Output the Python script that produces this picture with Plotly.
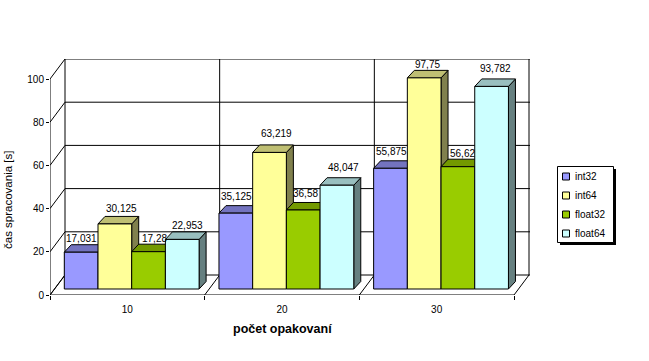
import plotly.graph_objects as go

categories = ["10", "20", "30"]
series_names = ["int32", "int64", "float32", "float64"]
int32 = [17.031, 35.125, 55.875]
int64 = [30.125, 63.219, 97.75]
float32 = [17.28, 36.58, 56.62]
float64 = [22.953, 48.047, 93.782]
y_ticks = [0, 20, 40, 60, 80, 100]

series_values = [int32, int64, float32, float64]
front = ["#9999FF", "#FFFF99", "#99CC00", "#CCFFFF"]
top = ["#7373BF", "#BFBF73", "#739900", "#99BFBF"]
side = ["#4D4D80", "#80804D", "#4D6600", "#668080"]

W, H = 649, 361
L, R, T, B = 50, 530, 59, 295
PX_X = 154.67           # pixels per category
PX_Y = 2.16             # pixels per unit
sx = lambda p: p / PX_X
sy = lambda p: p / PX_Y
DX, DY = sx(15), sy(20)       # wall depth
BX, BY = sx(7), sy(7.5)       # bar depth
BASE = sy(6)                  # bars stand a little into the floor
BAR_W = sx(33.7)
GROUP_START = sx(14.3)
x_max = (R - L) / PX_X
y_max = (B - T) / PX_Y

fig = go.Figure()


def line(xs, ys, z=0):
    fig.add_trace(go.Scatter(x=xs, y=ys, mode="lines", line=dict(color="black", width=1),
                             cliponaxis=False, showlegend=False, hoverinfo="skip", zorder=z))


# walls and floor
gx, gy = [], []
for t in y_ticks:
    gx += [0, DX, x_max, None]
    gy += [t, t + DY, t + DY, None]
n = len(categories)
for i in range(n + 1):
    gx += [i, i + DX, i + DX, None]
    gy += [0, DY, 100 + DY, None]
gx += [0, 0, None, 0, n]
gy += [0, 100, None, 0, 0]
line(gx, gy)

# 3D bars, painted from left to right
for s, (name, vals) in enumerate(zip(series_names, series_values)):
    lefts = [i + GROUP_START + s * BAR_W for i in range(n)]
    sxs, sys, txs, tys = [], [], [], []
    for x0, v in zip(lefts, vals):
        x1 = x0 + BAR_W
        y0, y1 = BASE, BASE + v
        sxs += [x1, x1 + BX, x1 + BX, x1, x1, None]
        sys += [y0, y0 + BY, y1 + BY, y1, y0, None]
        txs += [x0, x0 + BX, x1 + BX, x1, x0, None]
        tys += [y1, y1 + BY, y1 + BY, y1, y1, None]
    z = 3 * s + 1
    for xs, ys, col, zz in ((sxs, sys, side[s], z), (txs, tys, top[s], z + 1)):
        fig.add_trace(go.Scatter(x=xs, y=ys, mode="lines", fill="toself", fillcolor=col,
                                 line=dict(color="black", width=1), showlegend=False,
                                 hoverinfo="skip", zorder=zz, cliponaxis=False))
    fig.add_trace(go.Bar(x=[l + BAR_W / 2 for l in lefts], y=vals, base=BASE, width=BAR_W,
                         name=name, marker=dict(color=front[s], line=dict(color="black", width=1)),
                         showlegend=False, zorder=z + 2))

FONT = "Liberation Sans"
ann = []
# nudges of the value labels, in pixels (per series, per group)
nudges_x = [[-7, -6, -6], [0, 0, -4], [-1, -5, -2], [-2, 0, -3]]
nudges_y = [[-2, 1, 1], [0, 3, -2], [-2, 1, -2], [-2, 2, 2]]
for s, vals in enumerate(series_values):
    for i, v in enumerate(vals):
        x = i + GROUP_START + s * BAR_W + BAR_W / 2 + BX
        ann.append(dict(x=x, y=BASE + v + BY, xref="x", yref="y", text=f"{v:g}".replace(".", ","),
                        showarrow=False, xanchor="center", yanchor="middle",
                        xshift=nudges_x[s][i], yshift=8 + nudges_y[s][i],
                        font=dict(family=FONT, size=10, color="black")))

# page pixels to "paper" fractions (paper spans the plot area)
px = lambda p: (p - L) / (R - L)
py = lambda p: (B - p) / (B - T)
ann.append(dict(x=px(282), y=py(329), xref="paper", yref="paper", text="<b>počet opakovaní</b>", showarrow=False,
                xanchor="center", yanchor="middle", font=dict(family=FONT, size=12.5, color="black")))
ann.append(dict(x=px(8), y=py(200), xref="paper", yref="paper", text="čas spracovania [s]", showarrow=False,
                textangle=-90, xanchor="center", yanchor="middle", font=dict(family=FONT, size=11.5, color="black")))

shapes = [
    dict(type="rect", xref="paper", yref="paper", x0=px(560), x1=px(616), y0=py(169), y1=py(245),
         fillcolor="black", line=dict(width=0)),
    dict(type="rect", xref="paper", yref="paper", x0=px(557.5), x1=px(613.5), y0=py(166.5), y1=py(242.5),
         fillcolor="white", line=dict(color="black", width=1)),
]
for s, name in enumerate(series_names):
    yc = 176.5 + s * 19
    shapes.append(dict(type="rect", xref="paper", yref="paper", x0=px(562.5), x1=px(569.5),
                       y0=py(yc - 3.5), y1=py(yc + 3.5), fillcolor=front[s], line=dict(color="black", width=1)))
    ann.append(dict(x=px(573), y=py(yc), xref="paper", yref="paper", text=name, showarrow=False,
                    xanchor="left", yanchor="middle", font=dict(family=FONT, size=10, color="black")))

fig.update_layout(
    width=W, height=H, margin=dict(l=L, r=W - R, t=T, b=H - B, pad=0),
    paper_bgcolor="white", plot_bgcolor="white", barmode="overlay", showlegend=False,
    font=dict(family=FONT, size=10, color="black"),
    annotations=ann, shapes=shapes,
    xaxis=dict(range=[0, x_max], tickmode="array", tickvals=[i + 0.5 for i in range(n)], ticktext=categories,
               ticks="", showgrid=False, zeroline=False, showline=False, ticklabelstandoff=7,
               minor=dict(tickmode="array", tickvals=list(range(n + 1)), ticks="outside", ticklen=4,
                          tickcolor="black", tickwidth=1, showgrid=False)),
    yaxis=dict(range=[0, y_max], tickmode="array", tickvals=y_ticks, ticks="outside", ticklen=3,
               tickcolor="black", tickwidth=1, showgrid=False, zeroline=False, showline=False),
)
fig.write_html("out.html", config=dict(displayModeBar=False),
               post_script="document.body.style.margin='0';")
